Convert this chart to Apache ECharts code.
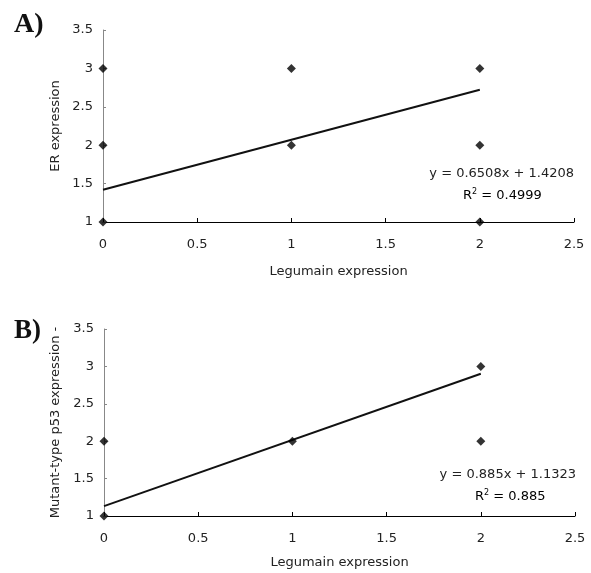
<!DOCTYPE html>
<html><head><meta charset="utf-8">
<script src="https://cdn.jsdelivr.net/npm/echarts@6/dist/echarts.min.js"></script>
<style>html,body{margin:0;padding:0;background:#fff}#c{width:591px;height:573px}</style>
</head><body><div id="c"></div>
<script>
// Panel A data
const aX = [0, 0, 0, 1, 1, 2, 2, 2];
const aY = [1, 2, 3, 2, 3, 1, 2, 3];
const aSlope = 0.6508, aIntercept = 1.4208, aR2 = '0.4999';
// Panel B data
const bX = [0, 0, 1, 2, 2];
const bY = [1, 2, 2, 2, 3];
const bSlope = 0.885, bIntercept = 1.1323, bR2 = '0.885';
const trendX = [0, 2];
const xName = 'Legumain expression';
const aYName = 'ER expression';
const bYName = 'Mutant-type p53 expression -';

const FONT = '"DejaVu Sans", sans-serif';
const pts = (xs, ys) => xs.map((x, i) => [x, ys[i]]);
const trend = (m, c) => trendX.map(x => [x, m * x + c]);

function xAxis(gi, gap) {
  return {
    type: 'value', gridIndex: gi, min: 0, max: 2.5, interval: 0.5,
    name: xName, nameLocation: 'middle', nameGap: gap, nameMoveOverlap: false,
    nameTextStyle: { fontFamily: FONT, fontSize: 13, color: '#222' },
    axisLine: { lineStyle: { color: '#000', width: 1 } },
    axisTick: { inside: true, length: 4, lineStyle: { color: '#000' } },
    axisLabel: { fontFamily: FONT, fontSize: 13, color: '#222', margin: 16 },
    splitLine: { show: false }
  };
}
function yAxis(gi, name, gap) {
  return {
    type: 'value', gridIndex: gi, min: 1, max: 3.5, interval: 0.5,
    name: name, nameLocation: 'middle', nameGap: gap, nameRotate: 90, nameMoveOverlap: false,
    nameTextStyle: { fontFamily: FONT, fontSize: 13, color: '#222' },
    axisLine: { show: true, lineStyle: { color: '#888', width: 1 } },
    axisTick: { show: true, inside: true, length: 3, lineStyle: { color: '#888' } },
    axisLabel: { fontFamily: FONT, fontSize: 13, color: '#222', margin: 10 },
    splitLine: { show: false }
  };
}
function scatter(xi, data) {
  return { type: 'scatter', xAxisIndex: xi, yAxisIndex: xi, data: data,
    symbol: 'diamond', symbolSize: 9, itemStyle: { color: '#000' }, silent: true };
}
function line(xi, data) {
  return { type: 'line', xAxisIndex: xi, yAxisIndex: xi, data: data, symbol: 'none',
    lineStyle: { color: '#111', width: 2 }, silent: true, z: 1 };
}
const rich = { b: { fontFamily: FONT, fontSize: 13, color: '#222' },
  s: { fontFamily: FONT, fontSize: 8, color: '#222', padding: [0, 0, 8, 0] } };

const chart = echarts.init(document.getElementById('c'));
chart.setOption({
  animation: false,
  backgroundColor: '#fff',
  grid: [
    { left: 103, right: 17, top: 30, height: 192 },
    { left: 104, right: 16, top: 329, height: 187 }
  ],
  xAxis: [xAxis(0, 43), xAxis(1, 40)],
  yAxis: [yAxis(0, aYName, 41), yAxis(1, bYName, 42)],
  series: [
    line(0, trend(aSlope, aIntercept)),
    scatter(0, pts(aX, aY)),
    line(1, trend(bSlope, bIntercept)),
    scatter(1, pts(bX, bY))
  ],
  graphic: [
    { type: 'text', left: 14, top: 11, style: { text: 'A)', font: 'bold 28px "Liberation Serif", "Times New Roman", serif', fill: '#111' } },
    { type: 'text', left: 14, top: 318, style: { text: 'B)', font: 'bold 27px "Liberation Serif", "Times New Roman", serif', fill: '#111' } },
    { type: 'text', right: 17, top: 167, style: { text: 'y = ' + aSlope + 'x + ' + aIntercept, font: '13px ' + FONT, fill: '#222' } },
    { type: 'text', left: 463, top: 188, style: { text: '{b|R}{s|2}{b| = ' + aR2 + '}', rich: rich } },
    { type: 'text', right: 15, top: 468, style: { text: 'y = ' + bSlope + 'x + ' + bIntercept, font: '13px ' + FONT, fill: '#222' } },
    { type: 'text', left: 475, top: 489, style: { text: '{b|R}{s|2}{b| = ' + bR2 + '}', rich: rich } }
  ]
});
</script></body></html>
